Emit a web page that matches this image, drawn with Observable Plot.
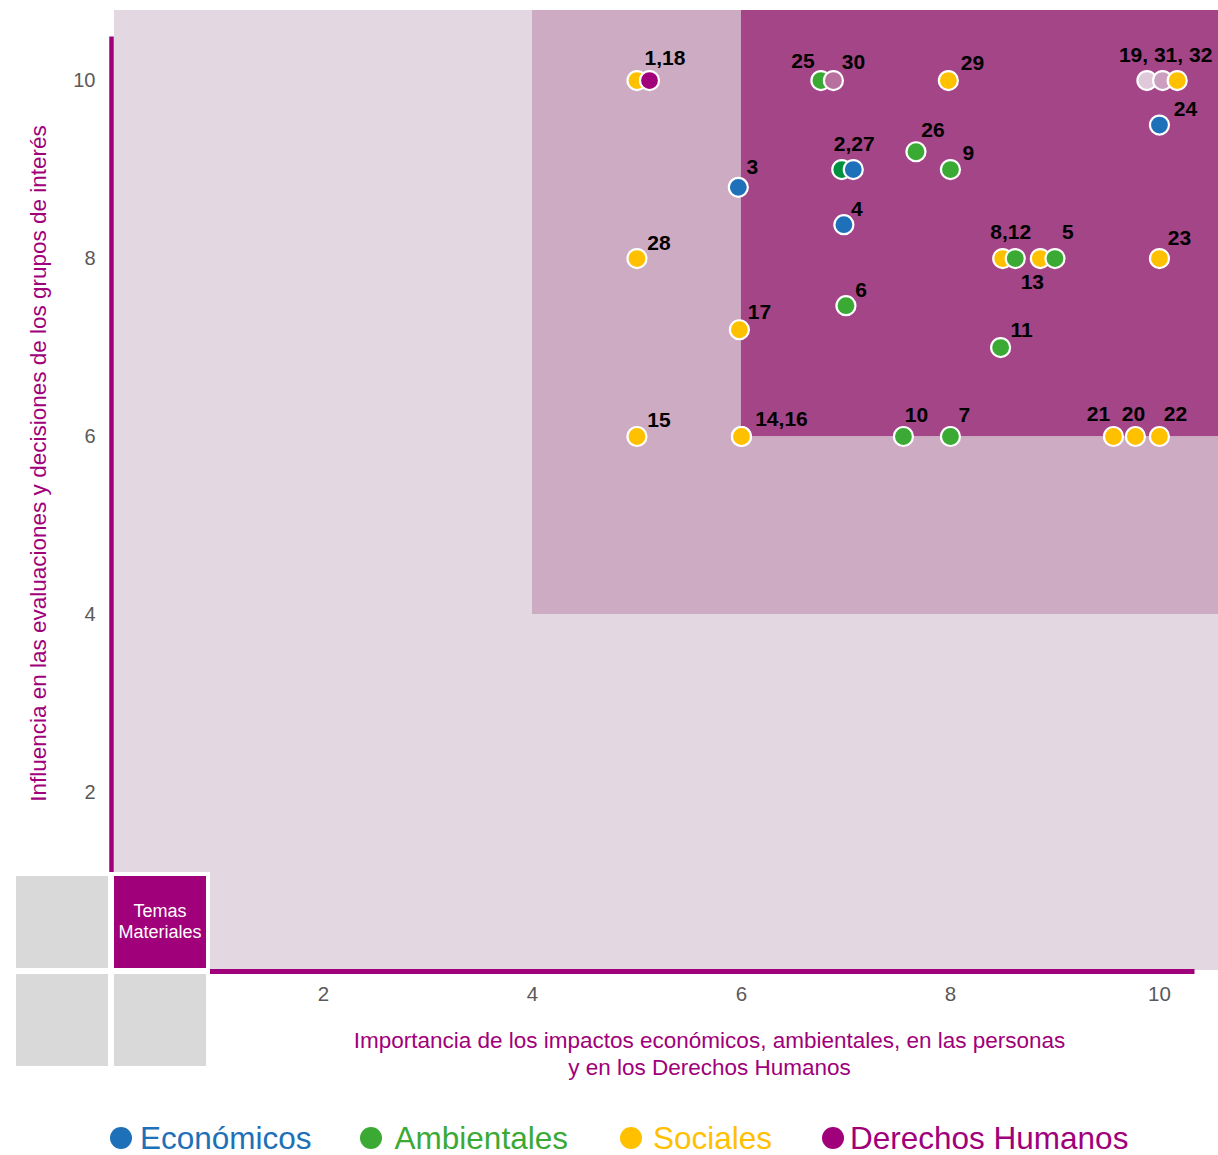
<!DOCTYPE html>
<html>
<head>
<meta charset="utf-8">
<script src="https://cdn.jsdelivr.net/npm/d3@7"></script>
<script src="https://cdn.jsdelivr.net/npm/@observablehq/plot@0.6"></script>
<style>
  html, body { margin: 0; padding: 0; background: #fff; }
  body { width: 1218px; height: 1155px; position: relative; font-family: "Liberation Sans", Arial, sans-serif; overflow: hidden; }
  #chart { position: absolute; left: 0; top: 0; }
  #box { position: absolute; left: 12px; top: 872px; padding: 4px; background: #fff; display: grid; grid-template-columns: 92px 92px; grid-template-rows: 92px 92px; gap: 6px; }
  #box div { background: #d9d9d9; }
  #box div.mat { background: #a0007a; color: #fff; font-size: 18px; line-height: 21px; display: flex; align-items: center; justify-content: center; text-align: center; }
  #legend { position: absolute; left: 110px; top: 1118px; height: 40px; display: flex; align-items: center; font-size: 31.5px; }
  #legend .item { display: flex; align-items: center; }
  #legend .sw { width: 22px; height: 22px; border-radius: 50%; }
  #legend .item:nth-child(1) { margin-right: 48px; } #legend .item:nth-child(1) .sw { margin-right: 8px; }
  #legend .item:nth-child(2) { margin-right: 52px; } #legend .item:nth-child(2) .sw { margin-right: 13px; }
  #legend .item:nth-child(3) { margin-right: 50px; } #legend .item:nth-child(3) .sw { margin-right: 11px; }
  #legend .item:nth-child(4) .sw { margin-right: 6px; }
</style>
</head>
<body>
<div id="chart"></div>
<div id="box"><div></div><div class="mat">Temas<br>Materiales</div><div></div><div></div></div>
<div id="legend"></div>
<script>
// ---- data ----
const categories = ["Económicos", "Ambientales", "Sociales", "Derechos Humanos"];
const categoryColors = ["#1e70b8", "#3aaa35", "#ffc000", "#a0007a"];
// extra tones used by a few points
const toneKeys = ["Ambientales (oscuro)", "Tono pálido", "Tono claro", "Tono medio"];
const toneColors = ["#00913f", "#dfc8da", "#cc9fc0", "#b8709f"];

const pointIds = [15, 28, 1, 18, 3, 17, 14, 16, 25, 30, 2, 4, 6, 27, 10, 26, 29, 9, 7, 11, 8, 12, 13, 5, 21, 20, 19, 22, 23, 24, 31, 32];
const pointX   = [5.0, 5.0, 5.0, 5.12, 5.97, 5.98, 6.0, 6.0, 6.76, 6.88, 6.96, 6.98, 7.0, 7.07, 7.55, 7.67, 7.98, 8.0, 8.0, 8.48, 8.5, 8.62, 8.86, 9.0, 9.56, 9.77, 9.88, 10.0, 10.0, 10.0, 10.03, 10.17];
const pointY   = [6.0, 8.0, 10.0, 10.0, 8.8, 7.2, 6.0, 6.0, 10.0, 10.0, 9.0, 8.38, 7.47, 9.0, 6.0, 9.2, 10.0, 9.0, 6.0, 7.0, 8.0, 8.0, 8.0, 8.0, 6.0, 6.0, 10.0, 6.0, 8.0, 9.5, 10.0, 10.0];
const pointCat = ["Sociales", "Sociales", "Sociales", "Derechos Humanos", "Económicos", "Sociales", "Sociales", "Sociales",
  "Ambientales", "Tono medio", "Ambientales (oscuro)", "Económicos", "Ambientales", "Económicos", "Ambientales", "Ambientales",
  "Sociales", "Ambientales", "Ambientales", "Ambientales", "Sociales", "Ambientales", "Sociales", "Ambientales",
  "Sociales", "Sociales", "Tono pálido", "Sociales", "Sociales", "Económicos", "Tono claro", "Sociales"];

// labels and the point each one is attached to
const labelTexts   = ["1,18", "25", "30", "29", "19, 31, 32", "24", "3", "2,27", "26", "9", "4", "28", "8,12", "5", "13", "23", "6", "17", "11", "15", "14,16", "10", "7", "21", "20", "22"];
const labelAnchors = [1, 25, 30, 29, 31, 24, 3, 27, 26, 9, 4, 28, 8, 5, 13, 23, 6, 17, 11, 15, 14, 10, 7, 21, 20, 22];

const xTicks = [2, 4, 6, 8, 10];
const yTicks = [2, 4, 6, 8, 10];
const zoneNames = ["base", "media", "alta"];
const zoneFrom  = [0, 4, 6];   // zone starts on both axes

const xTitle = "Importancia de los impactos económicos, ambientales, en las personas\ny en los Derechos Humanos";
const yTitle = "Influencia en las evaluaciones y decisiones de los grupos de interés";

// ---- styles ----
const FONT = '"Liberation Sans", Arial, sans-serif';
const MAGENTA = "#a0007a";
const zoneFill = {base: "#e3d7e2", media: "#cdabc3", alta: "#a44588"};
const labelOffset = {
  "1,18": [28, -22], "25": [-18, -19], "30": [20, -18], "29": [24, -17], "19, 31, 32": [3, -25],
  "24": [26, -16], "3": [14, -20], "2,27": [1, -25], "26": [17, -21], "9": [18, -16], "4": [13, -15],
  "28": [22, -15], "8,12": [8, -26], "5": [13, -26], "13": [-8, 24], "23": [20, -20], "6": [15, -15],
  "17": [20, -17], "11": [21, -17], "15": [22, -16], "14,16": [40, -17], "10": [13, -21], "7": [14, -21],
  "21": [-15, -22], "20": [-2, -22], "22": [16, -22]
};

// ---- build ----
const points = pointIds.map((id, i) => ({id, x: pointX[i], y: pointY[i], cat: pointCat[i]}));
const byId = new Map(points.map(p => [p.id, p]));
const labels = labelTexts.map((t, i) => ({text: t, x: byId.get(labelAnchors[i]).x, y: byId.get(labelAnchors[i]).y}));

const XMAX = 10.565, YMAX = 10.787;
const zones = zoneNames.map((z, i) => ({zone: z, x1: zoneFrom[i], y1: zoneFrom[i], x2: XMAX, y2: YMAX}));

const chart = Plot.plot({
  width: 1218,
  height: 1085,
  marginLeft: 114,
  marginRight: 0,
  marginTop: 10,
  marginBottom: 115,
  style: {fontFamily: FONT, fontSize: "20px", background: "transparent", overflow: "visible"},
  x: {domain: [0, XMAX]},
  y: {domain: [0, YMAX]},
  color: {domain: categories.concat(toneKeys), range: categoryColors.concat(toneColors), legend: false},
  marks: [
    Plot.rect(zones, {x1: "x1", x2: "x2", y1: "y1", y2: "y2", fill: d => zoneFill[d.zone]}),
    Plot.ruleX([0], {y1: 0, y2: 10.49, stroke: MAGENTA, strokeWidth: 4.5, dx: -3}),
    Plot.ruleY([0], {x1: 0, x2: 10.34, stroke: MAGENTA, strokeWidth: 5, dy: 1}),
    Plot.axisX({ticks: xTicks, tickSize: 0, tickPadding: 16, fill: "#595959", label: null, fontSize: 20.5}),
    Plot.axisY({ticks: yTicks, tickSize: 0, tickPadding: 19, fill: "#595959", label: null, fontSize: 20}),
    Plot.text([xTitle], {frameAnchor: "bottom", lineAnchor: "top", textAnchor: "middle", dx: 43, dy: 58, fill: MAGENTA, fontSize: 22.5, lineHeight: 1.2}),
    Plot.text([yTitle], {frameAnchor: "left", textAnchor: "middle", rotate: -90, dx: -76, dy: -27, fill: MAGENTA, fontSize: 22.5}),
    Plot.dot(points, {x: "x", y: "y", fill: "cat", r: 9.5, stroke: "white", strokeWidth: 2.2}),
    ...labels.map(l => Plot.text([l], {x: "x", y: "y", text: "text", dx: labelOffset[l.text][0], dy: labelOffset[l.text][1],
      fill: "#000", fontSize: 21, fontWeight: "bold"}))
  ]
});
document.getElementById("chart").appendChild(chart);

// legend
const legend = document.getElementById("legend");
categories.forEach((c, i) => {
  const item = document.createElement("div");
  item.className = "item";
  item.innerHTML = `<span class="sw" style="background:${categoryColors[i]}"></span><span style="color:${categoryColors[i]}">${c}</span>`;
  legend.appendChild(item);
});
</script>
</body>
</html>
